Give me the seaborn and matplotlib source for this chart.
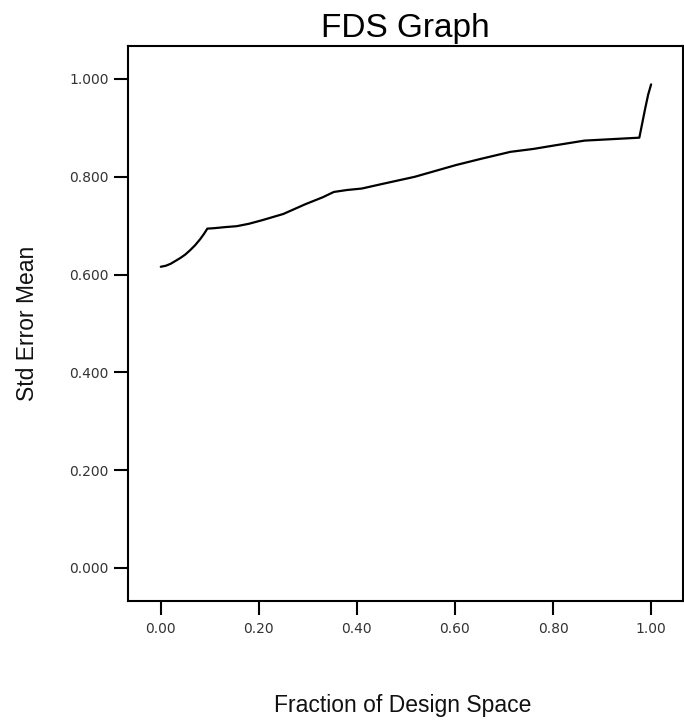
import matplotlib
matplotlib.use("Agg")
import matplotlib.pyplot as plt
import seaborn as sns
import pandas as pd

# FDS curve: fraction of design space vs. standard error of the mean
fraction = [0.000, 0.010, 0.020, 0.030, 0.040, 0.050, 0.060, 0.070, 0.080,
            0.088, 0.095, 0.110, 0.130, 0.155, 0.180, 0.206, 0.250, 0.295,
            0.330, 0.353, 0.380, 0.410, 0.450, 0.518, 0.560, 0.602, 0.650,
            0.713, 0.760, 0.802, 0.864, 0.920, 0.976, 0.982, 0.988, 0.994,
            1.000]
std_err = [0.616, 0.618, 0.622, 0.628, 0.634, 0.641, 0.650, 0.660, 0.672,
           0.683, 0.694, 0.695, 0.697, 0.699, 0.704, 0.711, 0.724, 0.744,
           0.758, 0.769, 0.773, 0.776, 0.785, 0.800, 0.812, 0.824, 0.836,
           0.851, 0.857, 0.864, 0.874, 0.877, 0.880, 0.910, 0.940, 0.968,
           0.989]

x_ticks = [0.0, 0.2, 0.4, 0.6, 0.8, 1.0]
y_ticks = [0.0, 0.2, 0.4, 0.6, 0.8, 1.0]
x_tick_labels = ["0.00", "0.20", "0.40", "0.60", "0.80", "1.00"]
y_tick_labels = ["0.000", "0.200", "0.400", "0.600", "0.800", "1.000"]

df = pd.DataFrame({"Fraction of Design Space": fraction,
                   "Std Error Mean": std_err})

sns.set_style("white")
plt.rcParams["font.family"] = ["Liberation Sans", "DejaVu Sans"]

fig = plt.figure(figsize=(6.84, 7.22), dpi=100)
ax = fig.add_axes([0.187, 0.1676, 0.8115, 0.7687])

sns.lineplot(data=df, x="Fraction of Design Space", y="Std Error Mean",
             color="black", linewidth=1.6, ax=ax, sort=False)

ax.set_xlim(-0.067, 1.065)
ax.set_ylim(-0.0675, 1.0675)

ax.set_xticks(x_ticks)
ax.set_xticklabels(x_tick_labels)
ax.set_yticks(y_ticks)
ax.set_yticklabels(y_tick_labels)

for lab in ax.get_xticklabels() + ax.get_yticklabels():
    lab.set_fontfamily("DejaVu Sans")
    lab.set_fontsize(10)
    lab.set_color("#333333")

ax.tick_params(axis="both", direction="out", length=10, width=1.5,
               color="black", bottom=True, left=True)
ax.tick_params(axis="x", pad=5)
ax.tick_params(axis="y", pad=4)

for side in ["left", "right", "top", "bottom"]:
    ax.spines[side].set_visible(True)
    ax.spines[side].set_color("black")
    ax.spines[side].set_linewidth(1.5)

ax.set_title("FDS Graph", fontsize=24, pad=6.5, color="black")
ax.set_xlabel("Fraction of Design Space", fontsize=16.5, color="#111111")
ax.set_ylabel("Std Error Mean", fontsize=16.5, color="#111111")
ax.xaxis.set_label_coords(0.495, -0.168)
ax.yaxis.set_label_coords(-0.160, 0.5)

fig.savefig("out.png", dpi=100, facecolor="white")
